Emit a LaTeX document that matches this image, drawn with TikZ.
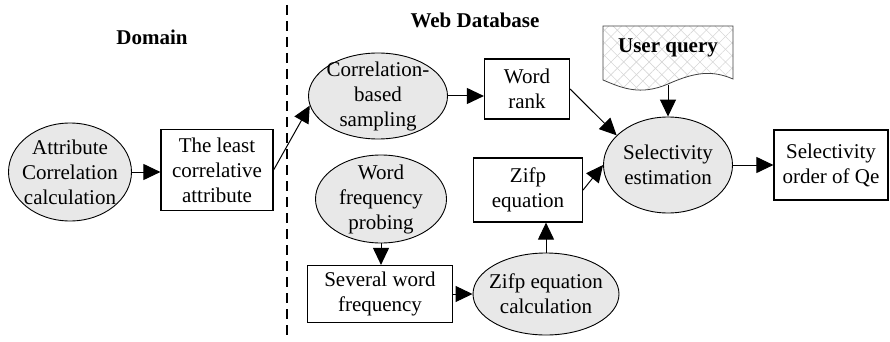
\documentclass[tikz,border=0pt]{standalone}
\usepackage{fontspec}
\setmainfont{Liberation Serif}
\usetikzlibrary{shapes.geometric}
\usetikzlibrary{arrows.meta}
\usetikzlibrary{patterns.meta}
\begin{document}
\begin{tikzpicture}[x=1pt,y=-1pt]
% définition des paramètres
\tikzstyle boiteflux=[draw,line width=1.2pt,inner sep=0pt,align=center,font=\fontsize{21}{25}\selectfont]
\tikzstyle ellipseflux=[draw,ellipse,fill=black!9,line width=0.9pt,inner sep=-10pt,align=center,font=\fontsize{21}{25}\selectfont]
\tikzstyle flecheflux=[line width=1pt,-{Triangle[length=17pt,width=16pt]}]
\tikzstyle titreflux=[font=\fontsize{21}{25}\selectfont\bfseries]
\tikzstyle hachureflux=[pattern color=black!16]
\useasboundingbox (0,0) rectangle (890,342);
% la séparation
\draw [line width=1.8pt,dash pattern=on 10pt off 6pt] (287,5) -- (287,340);
\node[titreflux] (domaine) at (152,37) {Domain};
\node[titreflux] (base) at (475,20) {Web Database};
% le document de la requête
\fill [hachureflux,pattern={Lines[angle=45,distance=9pt,line width=0.6pt]}]
  (603,26) -- (733,26) -- (733,79) .. controls (712,70) and (695,72) .. (668,84)
  .. controls (640,96) and (622,88) .. (603,80) -- cycle;
\fill [hachureflux,pattern={Lines[angle=-45,distance=9pt,line width=0.6pt]}]
  (603,26) -- (733,26) -- (733,79) .. controls (712,70) and (695,72) .. (668,84)
  .. controls (640,96) and (622,88) .. (603,80) -- cycle;
\draw [line width=0.8pt,black!75]
  (603,26) -- (733,26) -- (733,79) .. controls (712,70) and (695,72) .. (668,84)
  .. controls (640,96) and (622,88) .. (603,80) -- cycle;
\node[titreflux] (requete) at (668,48) {User query};
\coordinate (requetebas) at (668,85);
% les noeuds
\node[ellipseflux,minimum width=123pt,minimum height=98pt] (attr) at (70,172) {Attribute\\Correlation\\calculation};
\node[boiteflux,minimum width=112pt,minimum height=81pt] (moins) at (217,170) {The least\\correlative\\attribute};
\node[ellipseflux,minimum width=139pt,minimum height=86pt] (echant) at (378,96) {Correlation-\\based\\sampling};
\node[boiteflux,minimum width=85pt,minimum height=60pt] (rang) at (527,89) {Word\\rank};
\node[ellipseflux,minimum width=131pt,minimum height=88pt] (sonde) at (381,199) {Word\\frequency\\probing};
\node[boiteflux,minimum width=145pt,minimum height=57pt] (freq) at (380,294) {Several word\\frequency};
\node[ellipseflux,minimum width=146pt,minimum height=82pt] (calcul) at (546,294) {Zifp equation\\calculation};
\node[boiteflux,minimum width=109pt,minimum height=64pt] (equation) at (528,190) {Zifp\\equation};
\node[ellipseflux,minimum width=129pt,minimum height=96pt] (estim) at (668,165) {Selectivity\\estimation};
\node[boiteflux,minimum width=114pt,minimum height=70pt] (ordre) at (831,165) {Selectivity\\order of Qe};
% les flèches
\draw [flecheflux] (attr.east) -- (attr.east -| moins.west);
\draw [flecheflux] (moins.east) -- (echant.188);
\draw [flecheflux] (echant.east) -- (echant.east -| rang.west);
\draw [flecheflux] (rang.east) -- (estim.150);
\draw [flecheflux] (requetebas) -- (estim.north);
\draw [flecheflux] (equation.east) -- (estim.west);
\draw [flecheflux] (sonde.south) -- (sonde.south |- freq.north);
\draw [flecheflux] (freq.east) -- (freq.east -| calcul.west);
\draw [flecheflux] (calcul.north) -- (calcul.north |- equation.south);
\draw [flecheflux] (estim.east) -- (ordre.west);
\end{tikzpicture}
\end{document}
